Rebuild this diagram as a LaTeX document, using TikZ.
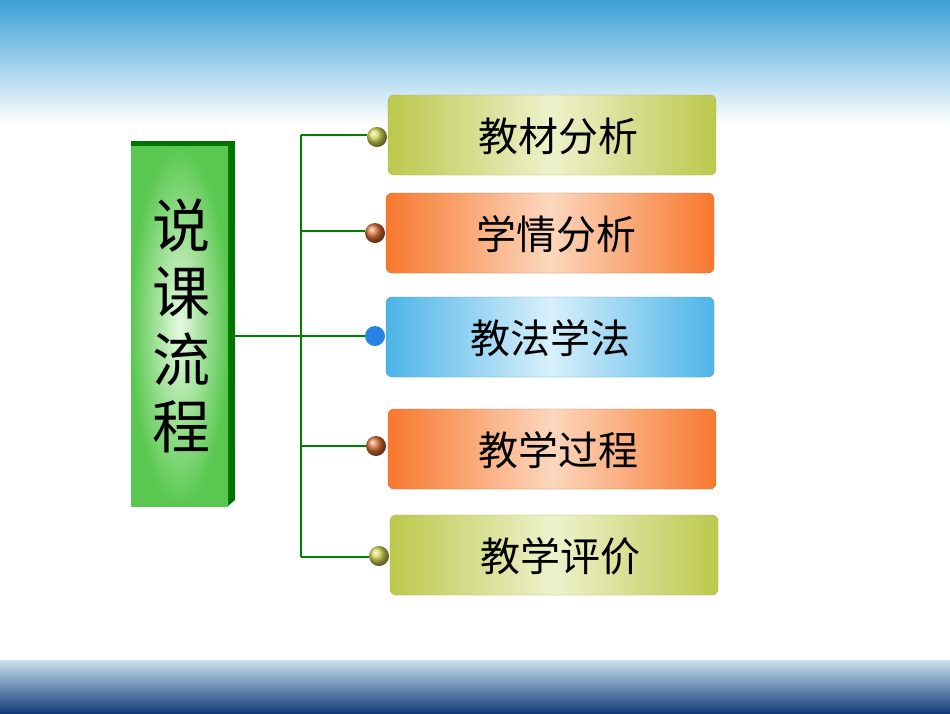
\documentclass[tikz,border=0pt]{standalone}
\usepackage{fontspec}
\newfontfamily\cjk{Noto Sans CJK SC}
\begin{document}
\begin{tikzpicture}[x=1pt,y=-1pt,
  item/.style={rounded corners=6pt,minimum width=328pt,minimum height=80pt,inner sep=0pt,text depth=0pt,font=\cjk\fontsize{40}{42}\selectfont},
  olive/.style={item,left color=olivec,right color=olivec,middle color=olivel,draw=olivec!90!black},
  orng/.style={item,left color=orc,right color=orc,middle color=orl,draw=orc!90!black},
  blu/.style={item,left color=bluc,right color=bluc,middle color=blul,draw=bluc!90!black},
  dot/.style={circle,minimum size=20pt,inner sep=0pt},
  ln/.style={draw=green!50!black,line width=1.5pt}]
\definecolor{olivec}{HTML}{BCC84C}\definecolor{olivel}{HTML}{EEF2CC}
\definecolor{orc}{HTML}{F7782E}\definecolor{orl}{HTML}{FCD7BE}
\definecolor{bluc}{HTML}{4DB4E8}\definecolor{blul}{HTML}{D8F0FB}
\useasboundingbox (0,0) rectangle (950,713);
\fill[white] (0,0) rectangle (950,713);
\shade[top color={rgb,255:red,60;green,160;blue,215},bottom color=white] (0,0) rectangle (950,125);
\shade[top color={rgb,255:red,200;green,225;blue,240},bottom color={rgb,255:red,20;green,60;blue,120}] (0,660) rectangle (950,713);
% left box
\fill[green!45!black] (131,141) -- (138,141) -- (235,141) -- (235,500) -- (228,506) -- (131,506) -- cycle;
\node[minimum width=97pt,minimum height=360pt,inner sep=0pt,inner color={rgb,255:red,230;green,250;blue,225},outer color={rgb,255:red,90;green,200;blue,80}] (lb) at (179.5,326) {};
\node[font=\cjk\fontsize{58}{67}\selectfont,align=center] (lt) at (181,326) {说\\课\\流\\程};
% items
\node[olive] (b1) at (552,135) {\hspace*{12pt}教材分析};
\node[orng] (b2) at (550,233) {\hspace*{12pt}学情分析};
\node[blu] (b3) at (550,337) {教法学法};
\node[orng] (b4) at (552,449) {\hspace*{12pt}教学过程};
\node[olive] (b5) at (554,555) {\hspace*{12pt}教学评价};
\node[dot,ball color={rgb,255:red,210;green,210;blue,80}] (d1) at (377,137) {};
\node[dot,ball color={rgb,255:red,215;green,110;blue,50}] (d2) at (375,233) {};
\node[dot,fill={rgb,255:red,40;green,130;blue,230}] (d3) at (375,336) {};
\node[dot,ball color={rgb,255:red,215;green,110;blue,50}] (d4) at (376,446) {};
\node[dot,ball color={rgb,255:red,210;green,210;blue,80}] (d5) at (379,556) {};
\coordinate (t) at (301,135); \coordinate (bt) at (301,557);
\draw[ln] (t) -- (bt);
\draw[ln] (lb.east |- d3) -- (d3.west);
\draw[ln] (t) -- (d1.west |- t);
\draw[ln] (301,231) -- (d2.west |- 0,231);
\draw[ln] (301,446) -- (d4.west |- 0,446);
\draw[ln] (bt) -- (d5.west |- bt);
\end{tikzpicture}
\end{document}
